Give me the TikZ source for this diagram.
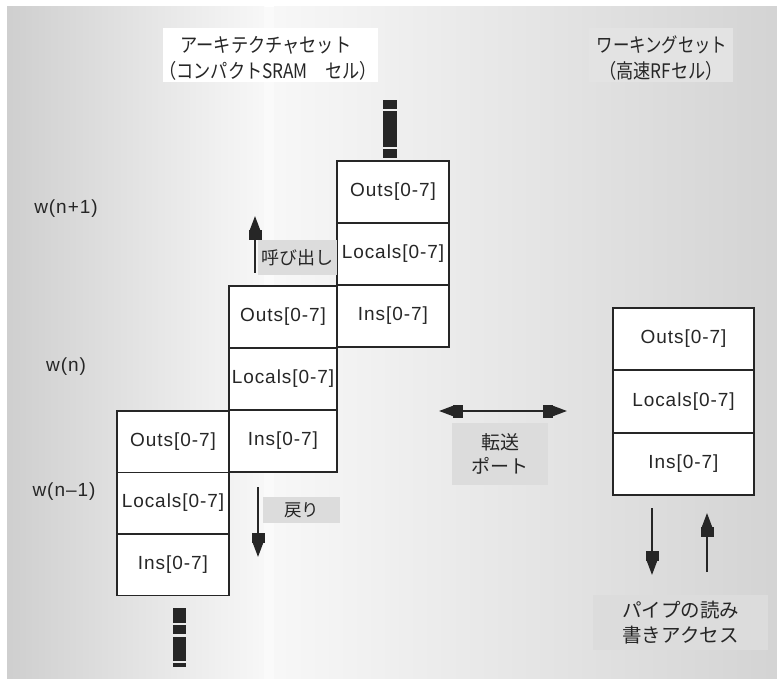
\documentclass[tikz,border=0pt]{standalone}
\usepackage{fontspec}
\usepackage{graphicx}
\setmainfont{Liberation Sans}
\newfontfamily\jp{Noto Sans CJK JP}
\newfontfamily\cellf[LetterSpace=5]{Liberation Sans}
\usetikzlibrary{arrows.meta}
\definecolor{ink}{HTML}{262626}
\definecolor{labelgray}{HTML}{DCDCDC}
\tikzset{
  cell/.style={draw=ink, line width=1.5pt, fill=white, inner sep=0pt, text=ink,
    font=\cellf\fontsize{19}{22}\selectfont},
  wlab/.style={text=ink, inner sep=0pt, font=\cellf\fontsize{19}{22}\selectfont},
  jlab/.style={fill=labelgray, inner sep=0pt, text=ink, align=center,
    font=\jp\fontsize{18}{25}\selectfont},
  arr/.style={draw=ink, line width=1.6pt,
    -{Rectangle[width=13pt,length=10pt,sep=0pt]Triangle[width=10pt,length=14pt]}},
  dotbar/.style={fill=ink, draw=none}
}
\begin{document}
\begin{tikzpicture}[x=1pt,y=-1pt]
\useasboundingbox (0,0) rectangle (777,679);
\fill[white] (0,0) rectangle (777,679);
% panels
\shade[left color=black!19, right color=black!3] (7,7) rectangle (264,679);
\shade[left color=black!3, right color=black!17] (274,7) rectangle (777,679);
\fill[black!2] (264,7) rectangle (274,679);

% headers
\node[fill=white, minimum width=215pt, minimum height=54pt, inner sep=0pt] (hl) at (270.5,55) {};
\node[text=ink, inner sep=0pt, font=\jp\fontsize{20}{25}\selectfont] (hlt1) at (266,45)
  {\scalebox{0.86}[1]{アーキテクチャセット}};
\node[text=ink, inner sep=0pt, font=\jp\fontsize{20}{25}\selectfont] (hlt2) at (268,71)
  {\scalebox{0.86}[1]{（コンパクトSRAM　セル）}};
\node[fill=black!11, minimum width=144pt, minimum height=54pt, inner sep=0pt] (hr) at (661,55) {};
\node[text=ink, inner sep=0pt, font=\jp\fontsize{20}{25}\selectfont] (hrt1) at (662,45)
  {\scalebox{0.82}[1]{ワーキングセット}};
\node[text=ink, inner sep=0pt, font=\jp\fontsize{20}{25}\selectfont] (hrt2) at (661,71)
  {\scalebox{0.86}[1]{（高速RFセル）}};

% window labels
\node[wlab] (wn1) at (66,209) {w(n+1)};
\node[wlab] (wn) at (66,367) {w(n)};
\node[wlab] (wm1) at (64,492) {w(n–1)};

% top stack w(n+1)
\node[cell, minimum width=112pt, minimum height=62pt] (to) at (393,192) {Outs[0-7]};
\node[cell, minimum width=112pt, minimum height=62pt] (tl) at (393,254) {Locals[0-7]};
\node[cell, minimum width=112pt, minimum height=62pt] (ti) at (393,316) {Ins[0-7]};
% middle stack w(n)
\node[cell, minimum width=108pt, minimum height=62pt] (mo) at (283,317) {Outs[0-7]};
\node[cell, minimum width=108pt, minimum height=62pt] (ml) at (283,379) {Locals[0-7]};
\node[cell, minimum width=108pt, minimum height=62pt] (mi) at (283,441) {Ins[0-7]};
% lower stack w(n-1)
\node[cell, minimum width=112pt, minimum height=61.5pt] (lo) at (173,441.5) {Outs[0-7]};
\node[cell, minimum width=112pt, minimum height=61.5pt] (ll) at (173,503) {Locals[0-7]};
\node[cell, minimum width=112pt, minimum height=61.5pt] (li) at (173,564.5) {Ins[0-7]};
% working set
\node[cell, minimum width=141pt, minimum height=62.3pt] (ro) at (683.5,339) {Outs[0-7]};
\node[cell, minimum width=141pt, minimum height=62.3pt] (rl) at (683.5,401.5) {Locals[0-7]};
\node[cell, minimum width=141pt, minimum height=62.3pt] (ri) at (683.5,464) {Ins[0-7]};

% continuation bars
\fill[dotbar] (383,100) rectangle (397,109);
\fill[dotbar] (383,111) rectangle (397,147);
\fill[dotbar] (383,149) rectangle (397,158);
\fill[dotbar] (173,608) rectangle (186,623);
\fill[dotbar] (173,625) rectangle (186,634);
\fill[dotbar] (173,637) rectangle (186,661);
\fill[dotbar] (173,663) rectangle (186,667);

% labels
\node[jlab, minimum width=79pt, minimum height=35pt] (call) at (297.5,257.5) {呼び出し};
\node[jlab, minimum width=77pt, minimum height=26pt, font=\jp\fontsize{17.5}{22}\selectfont] (ret) at (301.5,510) {戻り};
\node[jlab, minimum width=96pt, minimum height=62pt, font=\jp\fontsize{19}{24}\selectfont] (xfer) at (500,454) {転送\\ポート};
\node[jlab, minimum width=175pt, minimum height=55pt, font=\jp\fontsize{19.5}{25}\selectfont] (pipe) at (680.5,622.5) {パイプの読み\\書きアクセス};

% arrows
\coordinate (c1) at (255,273);
\coordinate (c2) at (255,216);
\draw[arr] (c1) -- (c2);
\coordinate (r1) at (258,487);
\coordinate (r2) at (258,557);
\draw[arr] (r1) -- (r2);
\coordinate (xm) at (503,411);
\coordinate (xl) at (439,411);
\coordinate (xr) at (567,411);
\draw[arr] (xm) -- (xl);
\draw[arr] (xm) -- (xr);
\coordinate (p1) at (652,508);
\coordinate (p2) at (652,575);
\draw[arr] (p1) -- (p2);
\coordinate (q1) at (707,572);
\coordinate (q2) at (707,513);
\draw[arr] (q1) -- (q2);
\end{tikzpicture}
\end{document}
